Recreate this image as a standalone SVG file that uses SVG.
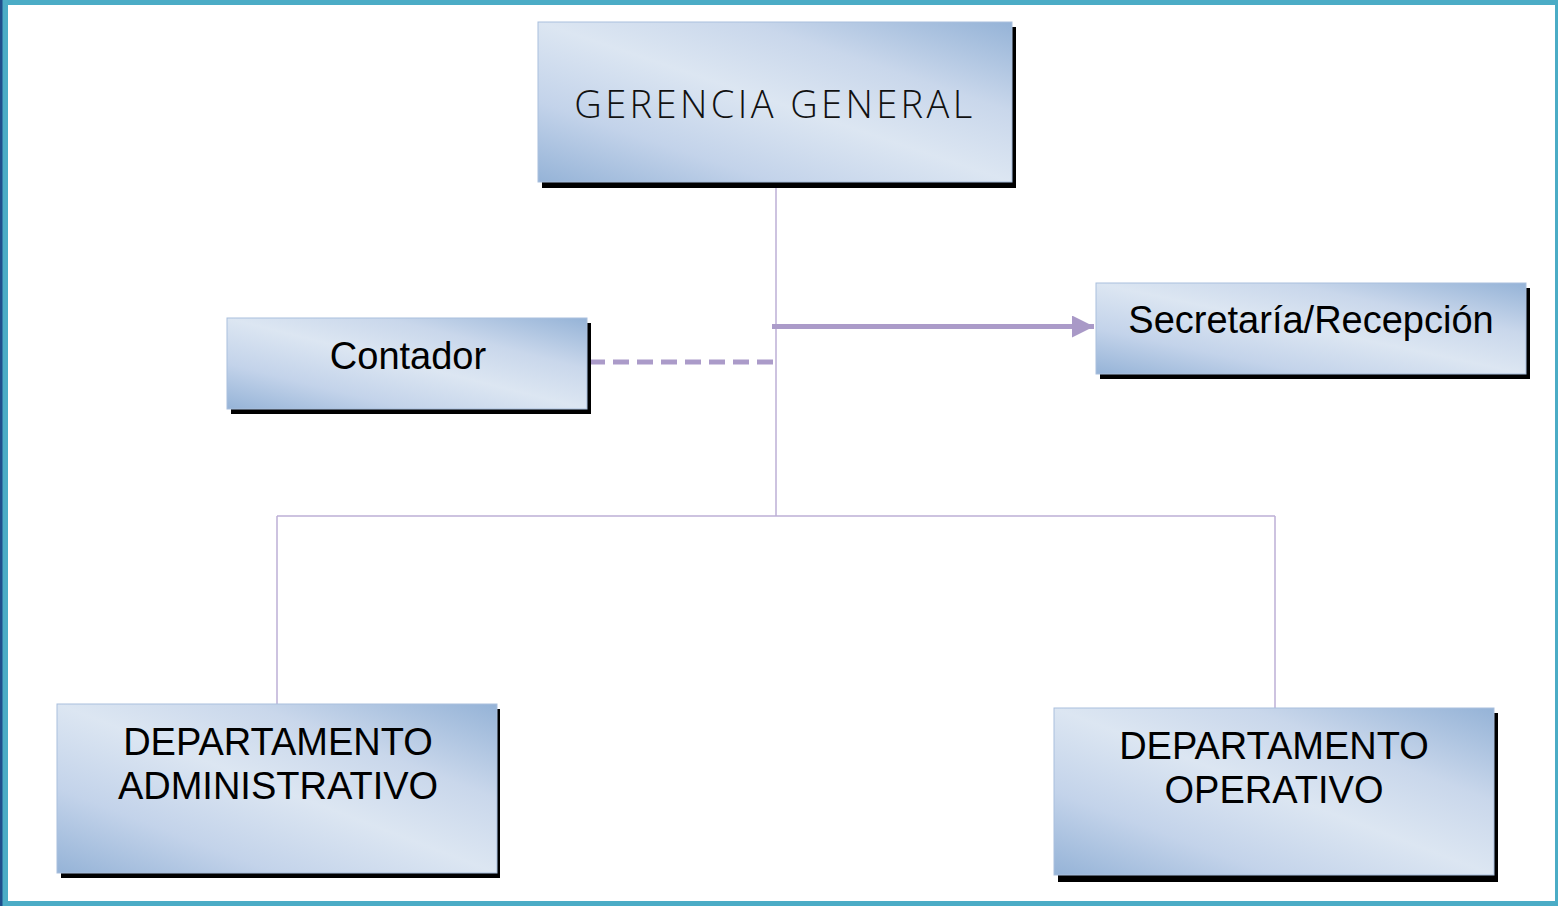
<svg xmlns="http://www.w3.org/2000/svg" width="1558" height="906" viewBox="0 0 1558 906">
<defs>
<linearGradient id="g" x1="0" y1="1" x2="1" y2="0">
<stop offset="0" stop-color="#95b3d7"/>
<stop offset="0.25" stop-color="#c3d3ea"/>
<stop offset="0.5" stop-color="#dce6f2"/>
<stop offset="0.72" stop-color="#c9d7eb"/>
<stop offset="1" stop-color="#95b3d7"/>
</linearGradient>
<marker id="arr" markerUnits="userSpaceOnUse" markerWidth="24" markerHeight="24" refX="22" refY="11" orient="auto">
<path d="M0,0 L22,11 L0,22 Z" fill="#a999c7"/>
</marker>
<style>
.sh{fill:#000}
.bx{fill:url(#g);stroke:#a9bfdd;stroke-width:1}
.t{font-family:"Liberation Sans",Arial,sans-serif;font-size:38px;fill:#000;text-anchor:middle}
.tl{font-family:"Open Sans","Liberation Sans",sans-serif;font-weight:300;font-size:38px;letter-spacing:3.4px;fill:#111;text-anchor:middle}
.c{fill:none;stroke:#bdb0d6;stroke-width:1.5}
</style>
</defs>
<rect x="0" y="0" width="1558" height="906" fill="#ffffff"/>
<g id="frame">
<rect x="0" y="0" width="1558" height="5" fill="#4bacc6"/>
<rect x="0" y="901" width="1558" height="5" fill="#4bacc6"/>
<rect x="0" y="0" width="8" height="906" fill="#4bacc6"/>
<rect x="0" y="0" width="2.5" height="906" fill="#1f4e8c"/>
<rect x="1555" y="0" width="3" height="906" fill="#4bacc6"/>
</g>
<g id="connectors">
<path class="c" d="M776,182 V516 M277,516 H1275 M277,516 V704 M1275,516 V708"/>
<line x1="772" y1="326.5" x2="1094" y2="326.5" stroke="#ab9bc9" stroke-width="5" marker-end="url(#arr)"/>
<line x1="589" y1="362" x2="774" y2="362" stroke="#ab9bc9" stroke-width="5" stroke-dasharray="16,8"/>
</g>
<g id="gerencia">
<rect class="sh" x="542" y="27" width="474" height="161"/>
<rect class="bx" x="538" y="22" width="474" height="160"/>
<text class="tl" x="775" y="118">GERENCIA GENERAL</text>
</g>
<g id="contador">
<rect class="sh" x="231" y="323" width="360" height="91"/>
<rect class="bx" x="227" y="318" width="360" height="91"/>
<text class="t" x="408" y="369">Contador</text>
</g>
<g id="secretaria">
<rect class="sh" x="1100" y="288" width="430" height="91"/>
<rect class="bx" x="1096" y="283" width="430" height="91"/>
<text class="t" x="1311" y="333">Secretaría/Recepción</text>
</g>
<g id="dep-admin">
<rect class="sh" x="61" y="709" width="439" height="169"/>
<rect class="bx" x="57" y="704" width="440" height="169"/>
<text class="t" x="278" y="755">DEPARTAMENTO</text>
<text class="t" x="278" y="799">ADMINISTRATIVO</text>
</g>
<g id="dep-oper">
<rect class="sh" x="1058" y="713" width="440" height="169"/>
<rect class="bx" x="1054" y="708" width="440" height="167"/>
<text class="t" x="1274" y="759">DEPARTAMENTO</text>
<text class="t" x="1274" y="803">OPERATIVO</text>
</g>
</svg>
